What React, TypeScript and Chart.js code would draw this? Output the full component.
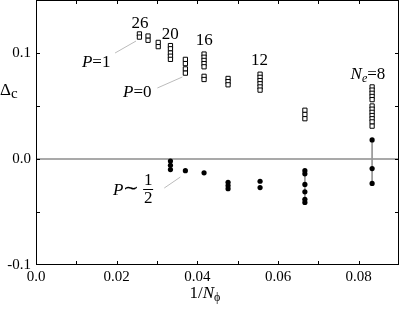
import React, { useEffect, useRef } from "react";
import { Chart, registerables } from "chart.js";
Chart.register(...registerables);

// 1/N_phi columns (N_phi values) and open-square values (Delta_c)
const nPhi = [39, 36, 33, 30, 27, 24, 21, 18, 15, 12];
const squareValues: number[][] = [
  [0.118, 0.115],
  [0.116, 0.112],
  [0.11, 0.106],
  [0.107, 0.104, 0.1, 0.097, 0.094],
  [0.094, 0.09, 0.085, 0.081],
  [0.099, 0.096, 0.093, 0.09, 0.087, 0.078, 0.075],
  [0.076, 0.073, 0.07],
  [0.08, 0.077, 0.074, 0.071, 0.068, 0.065],
  [0.046, 0.042, 0.038],
  [0.068, 0.065, 0.062, 0.059, 0.056, 0.05, 0.047, 0.044, 0.041, 0.038, 0.035, 0.031],
];
// filled circles (P ~ 1/2)
const circleNPhi = [30, 27, 24, 21, 18, 15, 12];
const circleValues: number[][] = [
  [-0.002, -0.006, -0.01],
  [-0.011],
  [-0.013],
  [-0.022, -0.025, -0.028],
  [-0.021, -0.027],
  [-0.011, -0.014, -0.024, -0.031, -0.038, -0.041],
  [0.018, -0.009, -0.023],
];
// columns whose circles are joined by a vertical line
const linkedNPhi = [15, 12];

const xTickValues = [0, 0.02, 0.04, 0.06, 0.08];
const xTickLabels = ["0.0", "0.02", "0.04", "0.06", "0.08"];
const yTickValues = [-0.1, 0, 0.1];
const yTickLabels = ["-0.1", "0.0", "0.1"];

// size labels above columns
const sizeLabels = ["26", "20", "16", "12"];
const sizeLabelX = [0.0258, 0.0333, 0.0417, 0.0554];
const sizeLabelY = [0.1236, 0.1132, 0.1075, 0.0887];

const SERIF = "'Liberation Serif', 'Times New Roman', serif";

function labelFor(v: number, vals: number[], labels: string[]) {
  for (let i = 0; i < vals.length; i++) if (Math.abs(vals[i] - v) < 1e-9) return labels[i];
  return null;
}

const decorPlugin = {
  id: "decor",
  beforeDatasetsDraw(chart: any) {
    const { ctx, chartArea: a, scales } = chart;
    const y0 = scales.y.getPixelForValue(0);
    ctx.save();
    ctx.strokeStyle = "#555";
    ctx.lineWidth = 1.2;
    ctx.beginPath();
    ctx.moveTo(a.left, y0);
    ctx.lineTo(a.right, y0);
    ctx.stroke();
    ctx.restore();
  },
  afterDraw(chart: any) {
    const { ctx, chartArea: a, scales } = chart;
    const xs = scales.x;
    const ys = scales.y;
    ctx.save();
    // frame
    ctx.strokeStyle = "#000";
    ctx.lineWidth = 1;
    ctx.strokeRect(a.left + 0.5, a.top + 0.5, a.right - a.left - 1, a.bottom - a.top - 1);
    // inward ticks
    ctx.beginPath();
    for (let i = 1; i <= 8; i++) {
      const px = Math.round(xs.getPixelForValue(i * 0.01)) + 0.5;
      ctx.moveTo(px, a.bottom);
      ctx.lineTo(px, a.bottom - 4);
      ctx.moveTo(px, a.top);
      ctx.lineTo(px, a.top + 4);
    }
    for (let i = -1; i <= 2; i++) {
      const py = Math.round(ys.getPixelForValue(i * 0.05)) + 0.5;
      ctx.moveTo(a.left, py);
      ctx.lineTo(a.left + 4, py);
      ctx.moveTo(a.right, py);
      ctx.lineTo(a.right - 4, py);
    }
    ctx.stroke();

    const X = (v: number) => xs.getPixelForValue(v);
    const Y = (v: number) => ys.getPixelForValue(v);

    // leader lines
    ctx.strokeStyle = "#bbb";
    ctx.lineWidth = 1;
    const leaders = [
      [0.0196, 0.1, 0.0248, 0.1113],
      [0.0301, 0.067, 0.0363, 0.0774],
      [0.0318, -0.0274, 0.0358, -0.017],
    ];
    ctx.beginPath();
    for (const l of leaders) {
      ctx.moveTo(X(l[0]), Y(l[1]));
      ctx.lineTo(X(l[2]), Y(l[3]));
    }
    ctx.stroke();

    ctx.fillStyle = "#000";
    ctx.textBaseline = "alphabetic";
    // size labels
    ctx.font = `17px ${SERIF}`;
    ctx.textAlign = "center";
    sizeLabels.forEach((t, i) => ctx.fillText(t, X(sizeLabelX[i]), Y(sizeLabelY[i])));

    ctx.textAlign = "left";
    const seq = (x: number, y: number, parts: [string, string, number][]) => {
      let cx = x;
      for (const [txt, font, dy] of parts) {
        ctx.font = font;
        ctx.fillText(txt, cx, y + dy);
        cx += ctx.measureText(txt).width;
      }
    };
    const it = `italic 17px ${SERIF}`;
    const rm = `17px ${SERIF}`;
    seq(X(0.078), Y(0.0755), [["N", it, 0], ["e", `italic 12px ${SERIF}`, 3], ["=8", rm, 0]]);
    seq(X(0.0114), Y(0.0868), [["P", it, 0], ["=1", rm, 0]]);
    seq(X(0.0216), Y(0.0585), [["P", it, 0], ["=0", rm, 0]]);
    seq(X(0.0191), Y(-0.034), [["P", it, 0], ["\u223C", `19px ${SERIF}`, -1]]);
    // fraction 1/2
    const fx = X(0.0278);
    ctx.font = rm;
    ctx.textAlign = "center";
    ctx.fillText("1", fx, Y(-0.0245));
    ctx.fillText("2", fx, Y(-0.0415));
    ctx.fillRect(fx - 5, Y(-0.0283), 10, 1);

    // axis titles
    ctx.textAlign = "left";
    seq(0, 95, [["\u0394", `17px ${SERIF}`, 0], ["c", `15px ${SERIF}`, 3]]);
    const tx = (a.left + a.right) / 2 - 28;
    seq(tx, 298, [["1/", rm, 0], ["N", it, 0], ["\u03D5", `12px ${SERIF}`, 3]]);
    ctx.restore();
  },
};

export default function App() {
  const ref = useRef<HTMLCanvasElement | null>(null);
  useEffect(() => {
    if (!ref.current) return;
    const squares: { x: number; y: number }[] = [];
    nPhi.forEach((n, i) => squareValues[i].forEach((v) => squares.push({ x: 1 / n, y: v })));
    const circles: { x: number; y: number }[] = [];
    circleNPhi.forEach((n, i) => circleValues[i].forEach((v) => circles.push({ x: 1 / n, y: v })));
    const lineSets = linkedNPhi.map((n) => {
      const vals = circleValues[circleNPhi.indexOf(n)];
      return {
        type: "scatter" as const,
        data: [
          { x: 1 / n, y: Math.max(...vals) },
          { x: 1 / n, y: Math.min(...vals) },
        ],
        showLine: true,
        borderColor: "#999",
        borderWidth: 1,
        pointRadius: 0,
        order: 10,
      };
    });
    const chart = new Chart(ref.current, {
      type: "scatter",
      data: {
        datasets: [
          {
            data: squares,
            pointStyle: "rect",
            pointRadius: 3,
            backgroundColor: "#fff",
            borderColor: "#000",
            borderWidth: 1,
            order: 1,
          },
          {
            data: circles,
            pointStyle: "circle",
            pointRadius: 2.6,
            backgroundColor: "#000",
            borderColor: "#000",
            borderWidth: 0,
            order: 2,
          },
          ...lineSets,
        ] as any,
      },
      options: {
        responsive: false,
        animation: false,
        devicePixelRatio: 1,
        layout: { autoPadding: false, padding: { top: 0, right: 0, left: 0, bottom: 0 } },
        plugins: { legend: { display: false }, tooltip: { enabled: false } },
        scales: {
          x: {
            type: "linear",
            min: 0,
            max: 0.09,
            grid: { display: false, drawTicks: false },
            border: { display: false },
            ticks: {
              stepSize: 0.01,
              autoSkip: false,
              maxRotation: 0,
              padding: 3,
              color: "#000",
              font: { family: SERIF, size: 15 },
              callback: (v: any) => labelFor(Number(v), xTickValues, xTickLabels),
            },
            afterFit: (s: any) => {
              s.height = 44;
              s.paddingLeft = 0;
              s.paddingRight = 0;
            },
          },
          y: {
            type: "linear",
            min: -0.1,
            max: 0.15,
            grid: { display: false, drawTicks: false },
            border: { display: false },
            ticks: {
              stepSize: 0.05,
              autoSkip: false,
              padding: 5,
              color: "#000",
              font: { family: SERIF, size: 15 },
              callback: (v: any) => labelFor(Number(v), yTickValues, yTickLabels),
            },
            afterFit: (s: any) => {
              s.width = 36;
              s.paddingTop = 0;
              s.paddingBottom = 0;
            },
          },
        },
      },
      plugins: [decorPlugin],
    });
    return () => chart.destroy();
  }, []);
  return (
    <div style={{ position: "fixed", left: 0, top: 0, width: 399, height: 309, background: "#fff" }}>
      <canvas ref={ref} width={399} height={309} style={{ display: "block" }} />
    </div>
  );
}
